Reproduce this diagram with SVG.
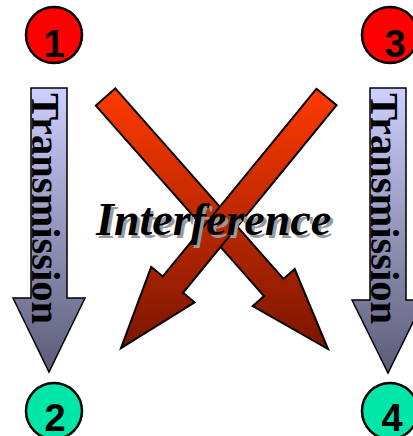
<svg xmlns="http://www.w3.org/2000/svg" width="413" height="436" viewBox="0 0 413 436">
<style>
.num{font-family:"Liberation Sans",Arial,sans-serif;font-weight:bold;font-size:38px;text-anchor:middle;fill:#000}
.circ{stroke:#000;stroke-width:2.5}
.tx{font-family:"Liberation Serif","Times New Roman",serif;font-weight:bold;font-size:40.5px;fill:#000}
.blue{fill:url(#gBlue);stroke:#000;stroke-width:1.5;stroke-linejoin:miter}
.red{fill:url(#gRed);stroke:#000;stroke-width:2;stroke-linejoin:miter}
.intf{font-family:"Liberation Serif","Times New Roman",serif;font-weight:bold;font-style:italic;font-size:46px}
</style>
<defs>
<linearGradient id="gBlue" gradientUnits="userSpaceOnUse" x1="0" y1="88" x2="0" y2="372">
<stop offset="0" stop-color="#CFCFFF"/>
<stop offset="1" stop-color="#5C5C78"/>
</linearGradient>
<linearGradient id="gRed" gradientUnits="userSpaceOnUse" x1="0" y1="88" x2="0" y2="350">
<stop offset="0" stop-color="#FF3A00"/>
<stop offset="1" stop-color="#7A1600"/>
</linearGradient>
</defs>
<g id="connectors">
<g id="transmission-left">
<path class="blue" d="M31,88 H67 V298 H85 L49,372 L13,298 H31 Z"/>
<text class="tx" transform="translate(32,93) rotate(90)">Transmission</text>
</g>
<g id="transmission-right">
<path class="blue" d="M370,88 H406 V300 H424 L388,373 L352,300 H370 Z"/>
<text class="tx" transform="translate(371,93) rotate(90)">Transmission</text>
</g>
<g id="interference-arrows">
<path class="red" d="M115.3,88.4 L283.5,278.9 L294.7,269 L328,349 L252.7,306 L264,296.1 L95.8,105.6 Z"/>
<path class="red" d="M316.4,88.8 L336.6,105.2 L183,292.8 L194.6,302.3 L121,348 L151.2,266.9 L162.8,276.4 Z"/>
</g>
<g id="interference-label">
<text class="intf" x="99" y="238" fill="#9a9a9a">Interference</text>
<text class="intf" x="96" y="235" fill="#000">Interference</text>
</g>
</g>
<g id="node1"><circle class="circ" cx="54" cy="35" r="28" fill="#FF0000"/><text class="num" x="54" y="57">1</text></g>
<g id="node3"><circle class="circ" cx="390" cy="35" r="28" fill="#FF0000"/><text class="num" x="395" y="57">3</text></g>
<g id="node2"><circle class="circ" cx="54" cy="411" r="28" fill="#00E6A8"/><text class="num" x="55" y="431">2</text></g>
<g id="node4"><circle class="circ" cx="390" cy="411" r="28" fill="#00E6A8"/><text class="num" x="392" y="431">4</text></g>
</svg>
